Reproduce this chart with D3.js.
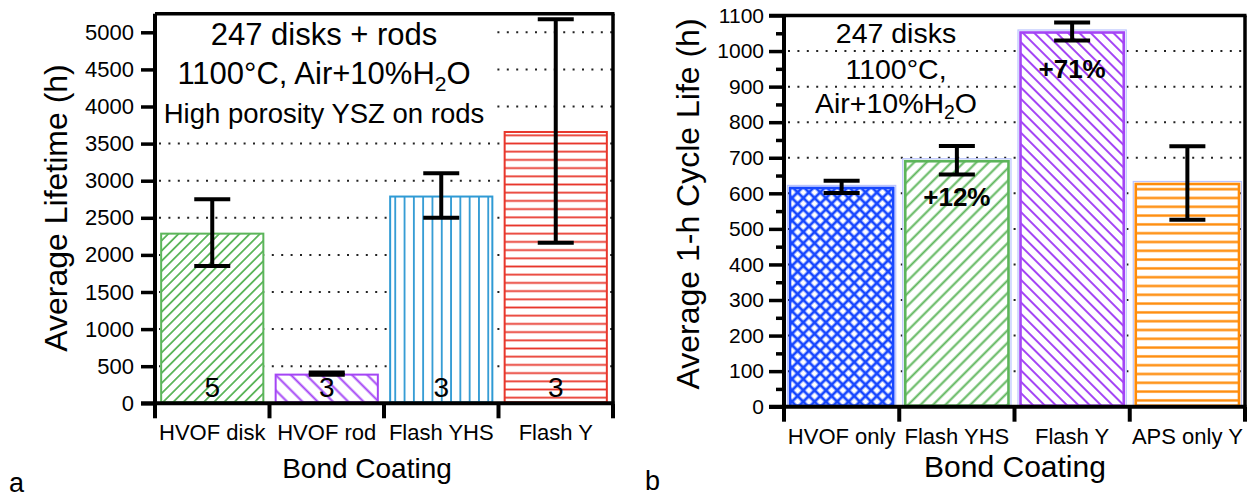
<!DOCTYPE html>
<html>
<head>
<meta charset="utf-8">
<script src="https://cdn.jsdelivr.net/npm/d3@7"></script>
<style>
  html, body { margin: 0; padding: 0; background: #fff; }
  svg { display: block; font-family: "Liberation Sans", Arial, Helvetica, sans-serif; }
</style>
</head>
<body>
<svg id="chart" width="1248" height="497"></svg>
<script>
/** Panel a: lifetime of disks and rods. */
const catsA = ["HVOF disk", "HVOF rod", "Flash YHS", "Flash Y"];
const lifeA = [2300, 400, 2800, 3670];
const errA = [450, 15, 300, 1505];
const countsA = ["5", "3", "3", "3"];
const ticksA = [0, 500, 1000, 1500, 2000, 2500, 3000, 3500, 4000, 4500, 5000];
const gridA = [500, 1000, 1500, 2000, 2500, 3000, 3500, 4000, 4500, 5000];
const noteA = ["247 disks + rods", "1100°C, Air+10%H2O", "High porosity YSZ on rods"];

/** Panel b: 1-h cycle life. */
const catsB = ["HVOF only", "Flash YHS", "Flash Y", "APS only Y"];
const lifeB = [618, 693, 1055, 629];
const errB = [17, 40, 25, 103];
const gainB = ["", "+12%", "+71%", ""];
const ticksB = [0, 100, 200, 300, 400, 500, 600, 700, 800, 900, 1000, 1100];
const minorB = [50, 150, 250, 350, 450, 550, 650, 750, 850, 950, 1050];
const gridB = [100, 200, 300, 400, 500, 600, 700, 800, 900, 1000];
const noteB = ["247 disks", "1100°C,", "Air+10%H2O"];

const svg = d3.select("#chart");
const defs = svg.append("defs");

/** Line hatch: vertical lines, rotated by angle (45 = "/", -45 = "\", 90 = horizontal). */
function linePattern(id, color, gap, width, angle) {
  const p = defs.append("pattern")
    .attr("id", id)
    .attr("patternUnits", "userSpaceOnUse")
    .attr("width", gap).attr("height", gap)
    .attr("patternTransform", `rotate(${angle})`);
  p.append("line")
    .attr("x1", gap / 2).attr("x2", gap / 2)
    .attr("y1", -1).attr("y2", gap + 1)
    .attr("stroke", color).attr("stroke-width", width);
}

/** Cross hatch (diamonds). */
function crossPattern(id, color, gap, width) {
  const p = defs.append("pattern")
    .attr("id", id)
    .attr("patternUnits", "userSpaceOnUse")
    .attr("width", gap).attr("height", gap)
    .attr("patternTransform", "rotate(45)");
  p.append("line").attr("x1", gap / 2).attr("x2", gap / 2).attr("y1", -1).attr("y2", gap + 1)
    .attr("stroke", color).attr("stroke-width", width);
  p.append("line").attr("y1", gap / 2).attr("y2", gap / 2).attr("x1", -1).attr("x2", gap + 1)
    .attr("stroke", color).attr("stroke-width", width);
}

const colorsA = ["#5cb55a", "#a445f5", "#2f9ad4", "#e8372c"];
const colorsB = ["#1747ff", "#5cb55a", "#a445f5", "#ff8c0a"];
linePattern("pa0", colorsA[0], 7.2, 1.8, 45);
linePattern("pa1", colorsA[1], 10.8, 2, -45);
linePattern("pa2", colorsA[2], 9.3, 1.8, 0);
linePattern("pa3", colorsA[3], 8.2, 1.8, 90);
crossPattern("pb0", colorsB[0], 8, 2.8);
linePattern("pb1", colorsB[1], 8.8, 2, 45);
linePattern("pb2", colorsB[2], 8, 2, -45);
linePattern("pb3", colorsB[3], 8.8, 2.4, 90);

/** Text with "H2O" written with a subscript 2. */
function noteText(sel, str, size) {
  const parts = str.split("H2O");
  sel.append("tspan").text(parts[0]);
  if (parts.length > 1) {
    sel.append("tspan").text("H");
    sel.append("tspan").text("2").attr("font-size", size * 0.68).attr("dy", size * 0.22);
    sel.append("tspan").text("O").attr("dy", -size * 0.22);
  }
}

function drawPanel(o) {
  const g = svg.append("g");
  const x = d3.scaleBand().domain(o.cats).range(o.xr).paddingInner(o.pad).paddingOuter(o.pad / 2);
  const y = d3.scaleLinear().domain(o.yd).range(o.yr);
  const [x0, x1] = o.xr;
  const yTop = y(o.yd[1]);
  const y0 = y(0);

  // dotted grid
  g.append("g").selectAll("line").data(o.grid).join("line")
    .attr("x1", x0 + 4).attr("x2", x1)
    .attr("y1", (d) => y(d)).attr("y2", (d) => y(d))
    .attr("stroke", "#222").attr("stroke-width", 2)
    .attr("stroke-dasharray", "2,7.4");

  if (o.noteBox) {
    g.append("rect")
      .attr("x", x0 + 2).attr("y", yTop + 2)
      .attr("width", o.noteBox[0]).attr("height", o.noteBox[1])
      .attr("fill", "#fff");
  }

  // bars
  const bars = g.append("g").selectAll("g").data(o.vals).join("g");
  if (o.halo) {
    bars.append("rect")
      .attr("x", (d, i) => x(o.cats[i]) - 1.5)
      .attr("y", (d) => y(d) - 1.5)
      .attr("width", x.bandwidth() + 3)
      .attr("height", (d) => y0 - y(d) + 1.5)
      .attr("fill", "none").attr("stroke", o.halo).attr("stroke-width", 1.2);
  }
  bars.append("rect")
    .attr("x", (d, i) => x(o.cats[i]))
    .attr("y", (d) => y(d))
    .attr("width", x.bandwidth())
    .attr("height", (d) => y0 - y(d))
    .attr("fill", "#fff");
  bars.append("rect")
    .attr("x", (d, i) => x(o.cats[i]) + 1)
    .attr("y", (d) => y(d) + 1)
    .attr("width", x.bandwidth() - 2)
    .attr("height", (d) => Math.max(0, y0 - y(d) - 2))
    .attr("fill", (d, i) => `url(#${o.pat}${i})`)
    .attr("stroke", (d, i) => o.colors[i])
    .attr("stroke-width", o.barStroke);

  // error bars
  const eb = g.append("g").selectAll("g").data(o.vals).join("g")
    .attr("stroke", "#000").attr("stroke-width", 4);
  const cx = (i) => x(o.cats[i]) + x.bandwidth() / 2;
  eb.append("line")
    .attr("x1", (d, i) => cx(i)).attr("x2", (d, i) => cx(i))
    .attr("y1", (d, i) => y(d + o.errs[i])).attr("y2", (d, i) => y(d - o.errs[i]));
  eb.append("line")
    .attr("x1", (d, i) => cx(i) - 18).attr("x2", (d, i) => cx(i) + 18)
    .attr("y1", (d, i) => y(d + o.errs[i])).attr("y2", (d, i) => y(d + o.errs[i]));
  eb.append("line")
    .attr("x1", (d, i) => cx(i) - 18).attr("x2", (d, i) => cx(i) + 18)
    .attr("y1", (d, i) => y(d - o.errs[i])).attr("y2", (d, i) => y(d - o.errs[i]));

  // labels inside bars
  if (o.counts) {
    g.append("g").selectAll("text").data(o.counts).join("text")
      .attr("x", (d, i) => cx(i)).attr("y", y0 - 6)
      .attr("text-anchor", "middle").attr("font-size", 28)
      .text((d) => d);
  }
  if (o.gains) {
    g.append("g").selectAll("text").data(o.gains).join("text")
      .attr("x", (d, i) => cx(i)).attr("y", (d, i) => y(o.vals[i]) + 46)
      .attr("text-anchor", "middle").attr("font-size", 26).attr("font-weight", 700)
      .text((d) => d);
  }

  // y axis ticks
  const ya = g.append("g").attr("transform", `translate(${x0},0)`)
    .call(d3.axisLeft(y).tickValues(o.ticks).tickFormat(d3.format("d"))
      .tickSize(o.tickLen).tickPadding(o.tickPad).tickSizeOuter(0));
  ya.select(".domain").remove();
  ya.selectAll("line").attr("stroke", "#000").attr("stroke-width", 3.5);
  ya.selectAll("text").attr("font-size", o.tickFont).attr("fill", "#000")
    .attr("font-family", "Liberation Sans, Arial, sans-serif");
  if (o.minor) {
    const ym = g.append("g").attr("transform", `translate(${x0},0)`)
      .call(d3.axisLeft(y).tickValues(o.minor).tickSize(8).tickFormat("").tickSizeOuter(0));
    ym.select(".domain").remove();
    ym.selectAll("line").attr("stroke", "#000").attr("stroke-width", 3.5);
  }

  // frame: left + bottom axis thick, top + right border
  g.append("line").attr("x1", x0).attr("x2", x0).attr("y1", yTop).attr("y2", y0)
    .attr("stroke", "#000").attr("stroke-width", 4);
  g.append("line").attr("x1", x0 - o.tickLen).attr("x2", x1 + 1.5).attr("y1", y0).attr("y2", y0)
    .attr("stroke", "#000").attr("stroke-width", 4);
  g.append("line").attr("x1", x0 - (o.minor ? o.tickLen : 0)).attr("x2", x1 + 1.5).attr("y1", yTop).attr("y2", yTop)
    .attr("stroke", "#000").attr("stroke-width", 3.5);
  g.append("line").attr("x1", x1).attr("x2", x1).attr("y1", yTop).attr("y2", y0)
    .attr("stroke", "#000").attr("stroke-width", 3.5);

  // category ticks at band boundaries
  const edges = o.cats.map((c, i) => x0 + i * x.step()).concat([x1]);
  g.append("g").selectAll("line").data(edges).join("line")
    .attr("x1", (d) => d).attr("x2", (d) => d)
    .attr("y1", y0).attr("y2", y0 + 15)
    .attr("stroke", "#000").attr("stroke-width", 4);
  g.append("g").selectAll("text").data(o.cats).join("text")
    .attr("x", (d) => x(d) + x.bandwidth() / 2).attr("y", y0 + 37)
    .attr("text-anchor", "middle").attr("font-size", 22)
    .text((d) => d);

  // axis titles
  g.append("text").attr("x", o.xTitle[0]).attr("y", o.xTitle[1])
    .attr("text-anchor", "middle").attr("font-size", o.xTitle[2]).text("Bond Coating");
  g.append("text")
    .attr("transform", `translate(${o.yTitle[0]},${o.yTitle[1]}) rotate(-90)`)
    .attr("text-anchor", "middle").attr("font-size", o.yTitle[2]).text(o.yLabel);

  // notes
  o.note.forEach((line, i) => {
    const t = g.append("text")
      .attr("x", o.noteX).attr("y", o.noteY[i])
      .attr("text-anchor", "middle").attr("font-size", o.noteSize[i]);
    noteText(t, line, o.noteSize[i]);
  });

  g.append("text").attr("x", o.letter[0]).attr("y", o.letter[1])
    .attr("font-size", 27).text(o.letter[2]);
}

drawPanel({
  cats: catsA, vals: lifeA, errs: errA, colors: colorsA, pat: "pa", barStroke: 2,
  xr: [155, 613], pad: 0.09,
  yd: [0, 5250], yr: [403.3, 403.3 - 5250 * 0.0742],
  ticks: ticksA, grid: gridA, tickLen: 14, tickPad: 7, tickFont: 22,
  counts: countsA,
  noteBox: [333, 113],
  note: noteA, noteX: 324, noteY: [45, 84, 123], noteSize: [31, 31, 27.5],
  xTitle: [367, 478, 28], yTitle: [67, 208, 32], yLabel: "Average Lifetime (h)",
  letter: [9, 492, "a"]
});

drawPanel({
  cats: catsB, vals: lifeB, errs: errB, colors: colorsB, pat: "pb", barStroke: 2.6,
  xr: [784, 1245], pad: 0.087, halo: "#b9c3ff",
  yd: [0, 1100], yr: [406.7, 15.5],
  ticks: ticksB, minor: minorB, grid: gridB, tickLen: 15, tickPad: 5, tickFont: 21,
  gains: gainB,
  note: noteB, noteX: 896, noteY: [43, 79, 113], noteSize: [28.5, 28.5, 28.5],
  xTitle: [1015, 477, 30], yTitle: [699, 204, 32], yLabel: "Average 1-h Cycle Life (h)",
  letter: [645, 490, "b"]
});
</script>
</body>
</html>
